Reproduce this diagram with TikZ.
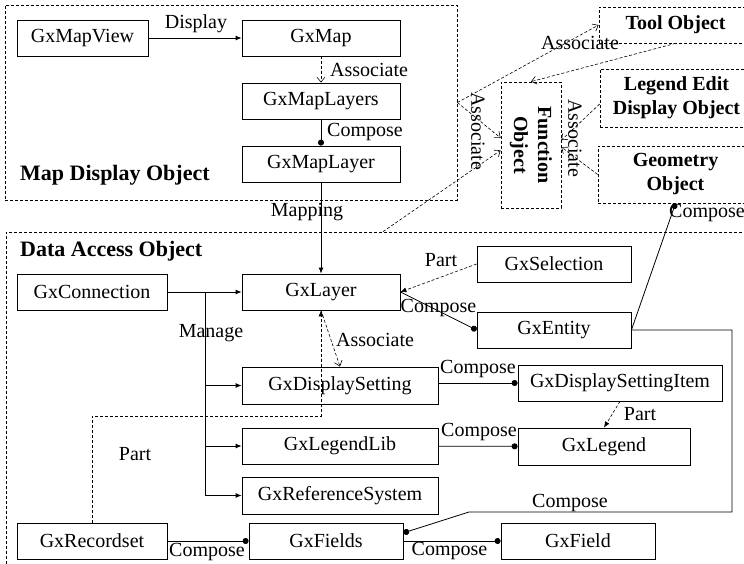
\documentclass[tikz,border=0pt]{standalone}
\usepackage{graphicx}
\usepackage{fontspec}
\setmainfont{Liberation Serif}
\usetikzlibrary{arrows.meta}
\tikzstyle{GXclass}=[draw, line width=0.8pt, minimum height=36pt, inner sep=0pt]
\tikzstyle{GXgroup}=[draw, line width=0.7pt, dash pattern=on 3pt off 2pt, inner sep=0pt, align=center]
\tikzstyle{GXgrouptext}=[font=\fontsize{20}{24}\selectfont\bfseries]
\tikzstyle{GXtitle}=[anchor=west, inner sep=0pt, font=\fontsize{22}{24}\selectfont\bfseries]
\tikzstyle{GXlabel}=[inner sep=1pt]
\tikzstyle{GXline}=[line width=0.8pt, draw=black]
\tikzstyle{GXuse}=[GXline, -{Latex[length=6pt,width=5pt]}]
\tikzstyle{GXassoc}=[GXline, line width=0.6pt, dash pattern=on 3pt off 2pt, -{Straight Barb[length=5pt,width=8pt]}]
\tikzstyle{GXpart}=[GXline, line width=0.6pt, dash pattern=on 3pt off 2pt, -{Latex[length=6pt,width=5pt]}]
\tikzstyle{GXcompose}=[GXline, -{Circle[length=6pt]}]

\begin{document}
\begin{tikzpicture}[x=1pt, y=-1pt, font=\fontsize{20}{22}\selectfont]
    \useasboundingbox (0,0) rectangle (744,564);
    \node [GXgroup, minimum width=452pt, minimum height=195pt] (mapdisp) at (231,102.5) {};
    \node [GXgroup, minimum width=754pt, minimum height=348pt] (dataacc) at (383,406) {};
    \node [GXtitle] (mapdisptitle) at (20,175) {Map Display Object};
    \node [GXtitle] (dataacctitle) at (20,251) {Data Access Object};
    \node [GXgroup, GXgrouptext, minimum width=153pt, minimum height=36pt] (tool) at (675.5,25) {Tool Object};
    \node [GXgroup, GXgrouptext, minimum width=153pt, minimum height=58pt] (legedit) at (676.5,98) {Legend Edit\\Display Object};
    \node [GXgroup, GXgrouptext, minimum width=155pt, minimum height=57pt] (geometry) at (675.5,174.5) {Geometry\\Object};
    \node [GXgroup, GXgrouptext, minimum width=60pt, minimum height=126pt] (function) at (531,145)
        {\rotatebox{-90}{\begin{tabular}{@{}c@{}}Function\\Object\end{tabular}}};

    \node [GXclass, minimum width=131pt] (mapview) at (82.5,38) {GxMapView};
    \node [GXclass, minimum width=158pt] (map) at (321,38) {GxMap};
    \node [GXclass, minimum width=158pt] (maplayers) at (321,101) {GxMapLayers};
    \node [GXclass, minimum width=158pt] (maplayer) at (321,164) {GxMapLayer};
    \node [GXclass, minimum width=150pt] (connection) at (92,292) {GxConnection};
    \node [GXclass, minimum width=158pt] (layer) at (321,292) {GxLayer};
    \node [GXclass, minimum width=196pt, minimum height=37pt] (dispsetting) at (340,385.5) {GxDisplaySetting};
    \node [GXclass, minimum width=196pt] (legendlib) at (340,446) {GxLegendLib};
    \node [GXclass, minimum width=196pt, minimum height=37pt] (refsystem) at (340,495.5) {GxReferenceSystem};
    \node [GXclass, minimum width=150pt] (recordset) at (92,541) {GxRecordset};
    \node [GXclass, minimum width=154pt] (fields) at (326,541) {GxFields};
    \node [GXclass, minimum width=154pt] (field) at (578,541) {GxField};
    \node [GXclass, minimum width=154pt] (selection) at (554,264) {GxSelection};
    \node [GXclass, minimum width=154pt] (entity) at (554,330) {GxEntity};
    \node [GXclass, minimum width=204pt] (dsitem) at (620,383) {GxDisplaySettingItem};
    \node [GXclass, minimum width=172pt, minimum height=37pt] (legend) at (604,446.5) {GxLegend};

    \coordinate (manage) at (205,292);
    \coordinate (partbend) at (92,416);
    \coordinate (entbend) at (732,512);
    \coordinate (entbend2) at (469,512);

    \draw [GXuse] (mapview) -- (map);
    \draw [GXassoc] (map) -- (maplayers);
    \draw [GXcompose] (maplayers) -- (maplayer);
    \draw [GXuse] (maplayer) -- (layer);
    \draw [GXuse] (connection) -- (layer);
    \draw [GXuse] (manage) |- (dispsetting);
    \draw [GXuse] (manage) |- (legendlib);
    \draw [GXuse] (manage) |- (refsystem);
    \draw [GXpart] (selection.west) -- (layer.east);
    \draw [GXcompose] (layer.east) -- (entity.west);
    \draw [GXcompose] (entity.east) -- (geometry.south);
    \draw [GXcompose] (entity.east) -| (entbend) -- (entbend2) -- (fields.6);
    \draw [GXcompose] (dispsetting.east |- dsitem.west) -- (dsitem.west);
    \draw [GXcompose] (legendlib) -- (legend);
    \draw [GXpart] (dsitem.south) -- (legend.north);
    \draw [GXcompose] (recordset) -- (fields);
    \draw [GXcompose] (fields) -- (field);
    \draw [GXpart] (recordset.north) -- (partbend) -| (layer.south);
    \draw [GXassoc] (layer.south) -- (dispsetting.north);
    \draw [GXassoc] (mapdisp.east) -- (tool.west);
    \draw [GXassoc] (mapdisp.east) -- (function.167);
    \draw [GXassoc] (dataacc.north) -- (function.190);
    \draw [GXassoc] (tool.south) -- (function.north);
    \draw [GXassoc] ([yshift=-6pt]legedit.west) -- (function.9);
    \draw [GXassoc] (geometry.west) -- (function.356);

    \node [GXlabel] (ldisplay) at (196,24) {Display};
    \node [GXlabel, anchor=west] (lmapassoc) at (329,70) {Associate};
    \node [GXlabel, anchor=west] (lmapcompose) at (326,132) {Compose};
    \node [GXlabel] (lmapping) at (307,212) {Mapping};
    \node [GXlabel] (lmanage) at (211,333) {Manage};
    \node [GXlabel] (lselpart) at (441,260) {Part};
    \node [GXlabel] (lentcompose) at (438.5,308) {Compose};
    \node [GXlabel, anchor=west] (llayassoc) at (335,340) {Associate};
    \node [GXlabel] (ldscompose) at (478,369) {Compose};
    \node [GXlabel] (lllcompose) at (479,432) {Compose};
    \node [GXlabel] (ldsipart) at (640,414) {Part};
    \node [GXlabel] (lrspart) at (135,454) {Part};
    \node [GXlabel] (lrscompose) at (207,552) {Compose};
    \node [GXlabel] (lfdcompose) at (449.5,551) {Compose};
    \node [GXlabel] (lentfdcompose) at (570,503) {Compose};
    \node [GXlabel] (lgeocompose) at (707,213) {Compose};
    \node [GXlabel] (ltoolassoc) at (580,43) {Associate};
    \node [GXlabel, rotate=-90] (lfnassocl) at (478,131) {Associate};
    \node [GXlabel, rotate=-90] (lfnassocr) at (575,138) {Associate};
\end{tikzpicture}
\end{document}
